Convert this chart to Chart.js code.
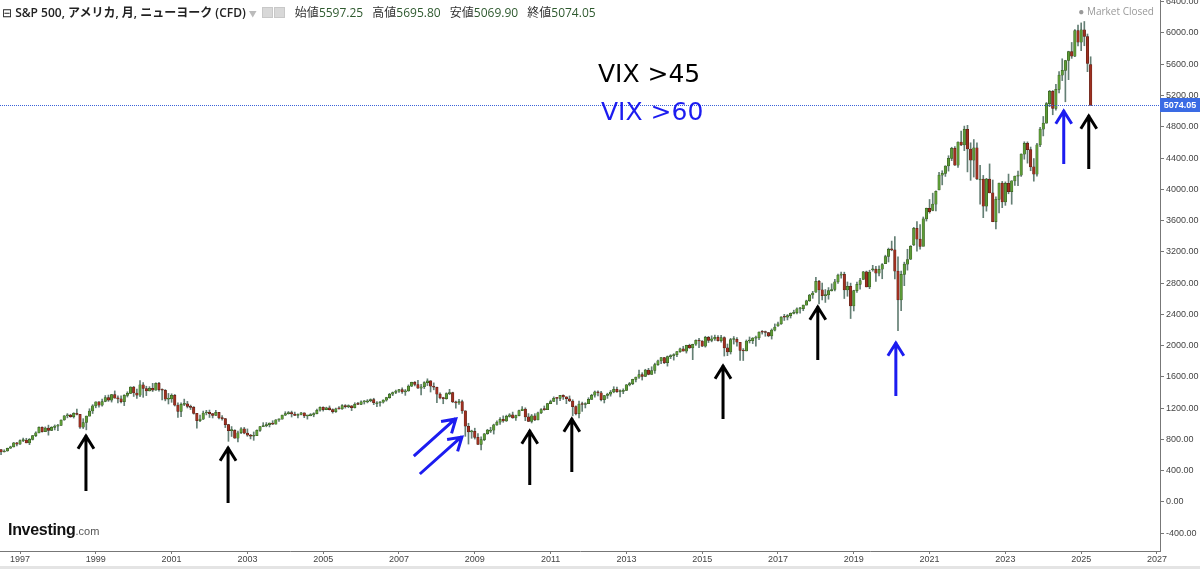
<!DOCTYPE html>
<html>
<head>
<meta charset="utf-8">
<script src="https://cdn.jsdelivr.net/npm/chart.js@4.4.1/dist/chart.umd.min.js"></script>
<style>
    html, body { margin: 0; padding: 0; background: #fff; }
    #wrap { position: relative; width: 1200px; height: 566px; }
    #band { width: 1200px; height: 3px; background: #e4e4e4; }
    #hdr {
        position: absolute; left: 2px; top: 3px; white-space: nowrap;
        font: 12px "Open Sans", "Noto Sans CJK JP", sans-serif; color: #222;
    }
    #hdr .t { font-weight: 600; }
    #hdr .caret { color: #bbb; font-size: 8px; margin: 0 5px 0 3px; }
    #hdr .ic { display: inline-block; width: 9px; height: 9px; background: #d8d8d8; border: 1px solid #c8c8c8; margin-right: 1px; vertical-align: -1px; }
    #hdr .lb { color: #333; margin-left: 6px; }
    #hdr .v { color: #2f5a2f; }
    #mkt {
        position: absolute; right: 46px; top: 4px;
        font: 10px "Open Sans", sans-serif; color: #999;
    }
    #logo { position: absolute; left: 8px; top: 521px; white-space: nowrap; }
    #logo .a { font: bold 16px "Liberation Sans", Arial, sans-serif; color: #111; letter-spacing: -0.3px; }
    #logo .b { font: 11px "Liberation Sans", Arial, sans-serif; color: #555; }
</style>
</head>
<body>
<div id="wrap">
    <canvas id="spxChart" width="1200" height="566"></canvas>
    <div id="hdr">
        <span>⊟</span> <span class="t">S&amp;P 500, アメリカ, 月, ニューヨーク (CFD)</span><span class="caret">▼</span><span class="ic"></span><span class="ic"></span>
        <span class="lb">始値</span><span class="v" id="qOpen"></span>
        <span class="lb">高値</span><span class="v" id="qHigh"></span>
        <span class="lb">安値</span><span class="v" id="qLow"></span>
        <span class="lb">終値</span><span class="v" id="qClose"></span>
    </div>
    <div id="mkt">● Market Closed</div>
    <div id="logo"><span class="a">Investing</span><span class="b">.com</span></div>
</div>
<div id="band"></div>

<script>
// S&P 500 monthly candles, June 1996 .. April 2025
const startYear = 1996;
const startMonth = 6;

const opens = [
    669, 671, 640, 652, 687, 705, 757,
    741, 786, 791, 757, 801, 848, 885, 954, 899, 947, 915, 955,
    970, 980, 1049, 1102, 1112, 1091, 1134, 1121, 957, 1017, 1099, 1164,
    1229, 1280, 1238, 1286, 1335, 1302, 1373, 1329, 1320, 1283, 1363, 1389,
    1469, 1394, 1366, 1499, 1452, 1421, 1455, 1431, 1518, 1437, 1429, 1315,
    1320, 1366, 1240, 1160, 1249, 1256, 1224, 1211, 1134, 1041, 1060, 1139,
    1148, 1130, 1107, 1147, 1077, 1067, 990, 912, 916, 815, 886, 936,
    880, 856, 841, 848, 917, 964, 975, 990, 1008, 996, 1051, 1058,
    1112, 1131, 1145, 1126, 1107, 1121, 1141, 1102, 1104, 1115, 1130, 1174,
    1212, 1181, 1204, 1181, 1157, 1192, 1191, 1234, 1220, 1229, 1207, 1249,
    1248, 1280, 1281, 1295, 1311, 1270, 1270, 1277, 1304, 1336, 1378, 1401,
    1418, 1438, 1407, 1421, 1482, 1531, 1503, 1455, 1474, 1527, 1549, 1481,
    1468, 1379, 1331, 1323, 1386, 1400, 1280, 1267, 1283, 1166, 969, 896,
    903, 826, 735, 798, 873, 919, 919, 987, 1021, 1057, 1036, 1096,
    1115, 1074, 1104, 1169, 1187, 1089, 1031, 1102, 1049, 1141, 1183, 1181,
    1258, 1286, 1327, 1326, 1364, 1345, 1321, 1292, 1219, 1131, 1253, 1247,
    1258, 1312, 1366, 1408, 1398, 1310, 1362, 1379, 1407, 1441, 1412, 1416,
    1426, 1498, 1515, 1569, 1598, 1631, 1606, 1686, 1633, 1682, 1757, 1806,
    1848, 1783, 1859, 1872, 1884, 1924, 1960, 1931, 2003, 1972, 2018, 2068,
    2059, 1995, 2105, 2068, 2086, 2107, 2063, 2104, 1972, 1920, 2079, 2080,
    2044, 1940, 1932, 2060, 2065, 2097, 2099, 2174, 2171, 2168, 2126, 2199,
    2251, 2279, 2364, 2363, 2384, 2412, 2423, 2470, 2472, 2519, 2575, 2648,
    2683, 2824, 2714, 2641, 2648, 2705, 2718, 2816, 2902, 2914, 2712, 2760,
    2507, 2704, 2784, 2848, 2946, 2752, 2971, 2980, 2926, 2977, 3050, 3141,
    3231, 3226, 2954, 2585, 2912, 3044, 3105, 3289, 3500, 3363, 3270, 3622,
    3756, 3731, 3811, 3992, 4181, 4204, 4298, 4395, 4523, 4308, 4605, 4567,
    4766, 4516, 4374, 4530, 4132, 4132, 3785, 4130, 3955, 3586, 3872, 4080,
    3840, 4077, 3970, 4109, 4169, 4180, 4450, 4589, 4508, 4288, 4194, 4568,
    4770, 4846, 5096, 5254, 5036, 5278, 5460, 5522, 5648, 5762, 5705, 6032,
    5882, 6041, 5955, 5597.25
];

const highs = [
    681, 672, 668, 690, 714, 762, 762,
    794, 818, 815, 812, 851, 898, 961, 961, 960, 983, 963, 986,
    992, 1050, 1106, 1131, 1122, 1142, 1190, 1121, 1066, 1100, 1193, 1245,
    1281, 1284, 1317, 1362, 1368, 1376, 1421, 1357, 1359, 1373, 1410, 1474,
    1479, 1445, 1553, 1528, 1481, 1475, 1518, 1525, 1531, 1448, 1438, 1389,
    1384, 1376, 1268, 1269, 1316, 1287, 1240, 1221, 1134, 1111, 1163, 1173,
    1176, 1131, 1173, 1148, 1106, 1068, 994, 965, 925, 907, 951, 954,
    935, 865, 896, 924, 965, 1015, 1016, 1012, 1040, 1054, 1063, 1112,
    1155, 1158, 1163, 1150, 1128, 1146, 1141, 1109, 1131, 1142, 1188, 1218,
    1218, 1213, 1229, 1192, 1200, 1220, 1246, 1246, 1243, 1233, 1270, 1276,
    1295, 1298, 1310, 1319, 1327, 1285, 1283, 1308, 1340, 1390, 1407, 1431,
    1441, 1461, 1439, 1498, 1533, 1541, 1556, 1504, 1539, 1576, 1553, 1524,
    1471, 1396, 1340, 1397, 1441, 1405, 1292, 1314, 1304, 1168, 1007, 919,
    944, 876, 833, 877, 930, 956, 996, 1039, 1081, 1102, 1111, 1130,
    1150, 1113, 1175, 1220, 1205, 1131, 1120, 1130, 1151, 1196, 1228, 1263,
    1303, 1345, 1332, 1366, 1371, 1346, 1357, 1308, 1230, 1292, 1278, 1270,
    1334, 1378, 1420, 1422, 1416, 1364, 1392, 1427, 1475, 1471, 1434, 1448,
    1504, 1530, 1571, 1598, 1687, 1654, 1698, 1710, 1730, 1776, 1814, 1849,
    1851, 1868, 1884, 1897, 1925, 1968, 1992, 2006, 2019, 2019, 2076, 2093,
    2065, 2120, 2118, 2126, 2135, 2130, 2133, 2113, 2021, 2094, 2117, 2104,
    2044, 1963, 2073, 2111, 2103, 2121, 2178, 2194, 2187, 2170, 2214, 2278,
    2301, 2372, 2401, 2398, 2419, 2454, 2484, 2491, 2520, 2582, 2657, 2695,
    2873, 2836, 2801, 2718, 2743, 2791, 2848, 2917, 2941, 2940, 2815, 2800,
    2709, 2813, 2860, 2950, 2954, 2965, 3028, 3014, 3022, 3050, 3157, 3248,
    3338, 3394, 3136, 2954, 3068, 3233, 3280, 3514, 3588, 3550, 3646, 3760,
    3870, 3951, 3982, 4218, 4238, 4302, 4430, 4538, 4546, 4608, 4744, 4809,
    4819, 4595, 4637, 4594, 4307, 4178, 4141, 4325, 4119, 3905, 4080, 4101,
    4095, 4195, 4110, 4170, 4232, 4455, 4608, 4607, 4541, 4394, 4588, 4794,
    4932, 5111, 5265, 5264, 5342, 5506, 5670, 5651, 5767, 5879, 6045, 6100,
    6129, 6147, 5987, 5695.80
];

const lows = [
    658, 605, 639, 649, 684, 703, 716,
    737, 773, 756, 733, 793, 836, 884, 893, 899, 855, 912, 922,
    912, 980, 1045, 1076, 1084, 1074, 1115, 940, 940, 923, 1099, 1132,
    1205, 1212, 1227, 1282, 1287, 1278, 1328, 1268, 1268, 1233, 1343, 1387,
    1350, 1326, 1346, 1339, 1361, 1420, 1413, 1429, 1419, 1305, 1294, 1254,
    1275, 1228, 1081, 1092, 1232, 1203, 1183, 1124, 945, 1026, 1055, 1114,
    1081, 1075, 1107, 1063, 1048, 952, 776, 838, 815, 769, 873, 872,
    840, 807, 789, 847, 902, 963, 962, 960, 990, 996, 1031, 1058,
    1105, 1124, 1087, 1107, 1077, 1114, 1079, 1060, 1102, 1090, 1128, 1163,
    1163, 1180, 1176, 1137, 1146, 1188, 1183, 1201, 1206, 1169, 1202, 1245,
    1245, 1253, 1268, 1282, 1245, 1219, 1225, 1265, 1290, 1327, 1360, 1385,
    1403, 1389, 1364, 1416, 1476, 1485, 1454, 1371, 1451, 1489, 1407, 1435,
    1271, 1317, 1257, 1315, 1374, 1272, 1200, 1248, 1133, 840, 741, 815,
    805, 735, 667, 784, 866, 888, 869, 978, 992, 1020, 1030, 1086,
    1071, 1045, 1102, 1167, 1040, 1029, 1011, 1040, 1049, 1131, 1173, 1181,
    1257, 1286, 1249, 1295, 1312, 1258, 1283, 1102, 1115, 1075, 1159, 1203,
    1258, 1312, 1341, 1357, 1292, 1267, 1325, 1354, 1397, 1403, 1343, 1386,
    1426, 1485, 1501, 1536, 1581, 1560, 1605, 1627, 1633, 1646, 1746, 1768,
    1770, 1738, 1834, 1815, 1859, 1915, 1931, 1905, 1965, 1821, 2002, 1973,
    1988, 1981, 2040, 2049, 2067, 2057, 2044, 1867, 1872, 1893, 2020, 1993,
    1812, 1810, 1932, 2034, 2026, 1992, 2075, 2148, 2120, 2114, 2084, 2188,
    2245, 2271, 2322, 2329, 2353, 2406, 2407, 2417, 2447, 2519, 2566, 2605,
    2682, 2533, 2585, 2553, 2594, 2698, 2699, 2796, 2864, 2603, 2632, 2347,
    2444, 2682, 2722, 2848, 2751, 2729, 2953, 2822, 2892, 2856, 3050, 3070,
    3214, 2855, 2192, 2447, 2767, 2966, 3101, 3280, 3210, 3234, 3279, 3594,
    3695, 3725, 3723, 3992, 4057, 4165, 4233, 4367, 4305, 4279, 4560, 4495,
    4223, 4115, 4157, 4124, 3811, 3637, 3721, 3955, 3585, 3492, 3699, 3765,
    3795, 3943, 3809, 4049, 4048, 4166, 4385, 4335, 4238, 4104, 4168, 4546,
    4683, 4845, 5057, 4954, 5012, 5234, 5391, 5120, 5403, 5675, 5697, 5833,
    5774, 5837, 5505, 5069.90
];

const closes = [
    671, 640, 652, 687, 705, 757, 741,
    786, 791, 757, 801, 848, 885, 954, 899, 947, 915, 955, 970,
    980, 1049, 1102, 1112, 1091, 1134, 1121, 957, 1017, 1099, 1164, 1229,
    1280, 1238, 1286, 1335, 1302, 1373, 1329, 1320, 1283, 1363, 1389, 1469,
    1394, 1366, 1499, 1452, 1421, 1455, 1431, 1518, 1437, 1429, 1315, 1320,
    1366, 1240, 1160, 1249, 1256, 1224, 1211, 1134, 1041, 1060, 1139, 1148,
    1130, 1107, 1147, 1077, 1067, 990, 912, 916, 815, 886, 936, 880,
    856, 841, 848, 917, 964, 975, 990, 1008, 996, 1051, 1058, 1112,
    1131, 1145, 1126, 1107, 1121, 1141, 1102, 1104, 1115, 1130, 1174, 1212,
    1181, 1204, 1181, 1157, 1192, 1191, 1234, 1220, 1229, 1207, 1249, 1248,
    1280, 1281, 1295, 1311, 1270, 1270, 1277, 1304, 1336, 1378, 1401, 1418,
    1438, 1407, 1421, 1482, 1531, 1503, 1455, 1474, 1527, 1549, 1481, 1468,
    1379, 1331, 1323, 1386, 1400, 1280, 1267, 1283, 1166, 969, 896, 903,
    826, 735, 798, 873, 919, 919, 987, 1021, 1057, 1036, 1096, 1115,
    1074, 1104, 1169, 1187, 1089, 1031, 1102, 1049, 1141, 1183, 1181, 1258,
    1286, 1327, 1326, 1364, 1345, 1321, 1292, 1219, 1131, 1253, 1247, 1258,
    1312, 1366, 1408, 1398, 1310, 1362, 1379, 1407, 1441, 1412, 1416, 1426,
    1498, 1515, 1569, 1598, 1631, 1606, 1686, 1633, 1682, 1757, 1806, 1848,
    1783, 1859, 1872, 1884, 1924, 1960, 1931, 2003, 1972, 2018, 2068, 2059,
    1995, 2105, 2068, 2086, 2107, 2063, 2104, 1972, 1920, 2079, 2080, 2044,
    1940, 1932, 2060, 2065, 2097, 2099, 2174, 2171, 2168, 2126, 2199, 2239,
    2279, 2364, 2363, 2384, 2412, 2423, 2470, 2472, 2519, 2575, 2648, 2674,
    2824, 2714, 2641, 2648, 2705, 2718, 2816, 2902, 2914, 2712, 2760, 2507,
    2704, 2784, 2834, 2946, 2752, 2942, 2980, 2926, 2977, 3038, 3141, 3231,
    3226, 2954, 2585, 2912, 3044, 3100, 3271, 3500, 3363, 3270, 3622, 3756,
    3714, 3811, 3973, 4181, 4204, 4298, 4395, 4523, 4308, 4605, 4567, 4766,
    4516, 4374, 4530, 4132, 4132, 3785, 4130, 3955, 3586, 3872, 4080, 3840,
    4077, 3970, 4109, 4169, 4180, 4450, 4589, 4508, 4288, 4194, 4568, 4770,
    4846, 5096, 5254, 5036, 5278, 5460, 5522, 5648, 5762, 5705, 6032, 5882,
    6041, 5955, 5612, 5074.05
];

const xTickYears = [1997, 1999, 2001, 2003, 2005, 2007, 2009, 2011, 2013, 2015, 2017, 2019, 2021, 2023, 2025, 2027];
const yTickValues = [-400, 0, 400, 800, 1200, 1600, 2000, 2400, 2800, 3200, 3600, 4000, 4400, 4800, 5200, 5600, 6000, 6400];

// annotation arrows in chart units: [year, fromValue, toValue]
const blackArrows = [
    [1998.74, 141, 844], [2002.49, -13, 691], [2010.45, 217, 908], [2011.56, 384, 1062],
    [2015.55, 1062, 1740], [2018.05, 1816, 2494], [2025.20, 4260, 4938]
];
const blueArrows = [[2020.11, 1356, 2034], [2024.54, 4324, 5002]];
const blueDiagonals = [[2007.39, 588, 2008.50, 1062], [2007.55, 358, 2008.66, 831]];

const GREEN = '#5c9a36', RED = '#9e3020', WICK = '#647f74', BLUE = '#1c1cf0';

document.addEventListener('DOMContentLoaded', () => {
    const last = closes.length - 1;
    document.getElementById('qOpen').textContent = opens[last].toFixed(2);
    document.getElementById('qHigh').textContent = highs[last].toFixed(2);
    document.getElementById('qLow').textContent = lows[last].toFixed(2);
    document.getElementById('qClose').textContent = closes[last].toFixed(2);

    const monthX = closes.map((c, i) => startYear + (startMonth - 1 + i) / 12);

    const bodies = closes.map((c, i) => ({ x: monthX[i], y: [opens[i], c] }));
    const wicks = closes.map((c, i) => ({ x: monthX[i], y: [lows[i], highs[i]] }));
    const up = closes.map((c, i) => c >= opens[i]);

    function arrow(ctx, x0, y0, x1, y1, color) {
        const a = Math.atan2(y1 - y0, x1 - x0);
        const len = 15, th = 0.56;
        ctx.save();
        ctx.strokeStyle = color;
        ctx.lineWidth = 3;
        ctx.lineJoin = 'miter';
        ctx.beginPath();
        ctx.moveTo(x0, y0);
        ctx.lineTo(x1, y1 + 1 * Math.sin(a));
        ctx.moveTo(x1 - len * Math.cos(a - th), y1 - len * Math.sin(a - th));
        ctx.lineTo(x1, y1);
        ctx.lineTo(x1 - len * Math.cos(a + th), y1 - len * Math.sin(a + th));
        ctx.stroke();
        ctx.restore();
    }

    const overlay = {
        id: 'overlay',
        afterDatasetsDraw(chart) {
            const { ctx, chartArea, scales: { y } } = chart;
            const py = Math.round(y.getPixelForValue(closes[last])) + 0.5;
            ctx.save();
            ctx.strokeStyle = '#3a62d8';
            ctx.lineWidth = 1;
            ctx.setLineDash([1, 1]);
            ctx.beginPath();
            ctx.moveTo(chartArea.left, py);
            ctx.lineTo(chartArea.right, py);
            ctx.stroke();
            ctx.restore();
        },
        afterDraw(chart) {
            const { ctx, chartArea, scales: { x, y } } = chart;
            blackArrows.forEach(([t, v0, v1]) => {
                arrow(ctx, x.getPixelForValue(t), y.getPixelForValue(v0), x.getPixelForValue(t), y.getPixelForValue(v1), '#000');
            });
            blueArrows.forEach(([t, v0, v1]) => {
                arrow(ctx, x.getPixelForValue(t), y.getPixelForValue(v0), x.getPixelForValue(t), y.getPixelForValue(v1), BLUE);
            });
            blueDiagonals.forEach(([t0, v0, t1, v1]) => {
                arrow(ctx, x.getPixelForValue(t0), y.getPixelForValue(v0), x.getPixelForValue(t1), y.getPixelForValue(v1), BLUE);
            });

            ctx.save();
            ctx.font = '25px "DejaVu Sans"';
            ctx.textBaseline = 'middle';
            ctx.textAlign = 'left';
            ctx.fillStyle = '#000';
            ctx.fillText('VIX >45', x.getPixelForValue(2012.25), y.getPixelForValue(5462));
            ctx.fillStyle = BLUE;
            ctx.fillText('VIX >60', x.getPixelForValue(2012.33), y.getPixelForValue(4976));

            // last price tag on the axis
            const py = Math.round(y.getPixelForValue(closes[last]));
            ctx.fillStyle = '#3a6be4';
            ctx.fillRect(chartArea.right, py - 7, 40, 14);
            ctx.fillStyle = '#fff';
            ctx.font = 'bold 9px "Liberation Sans"';
            ctx.textAlign = 'center';
            ctx.fillText(closes[last].toFixed(2), chartArea.right + 20, py + 0.5);
            ctx.restore();
        }
    };

    new Chart(document.getElementById('spxChart'), {
        type: 'bar',
        data: {
            datasets: [
                {
                    label: 'body',
                    data: bodies,
                    grouped: false,
                    barThickness: 2.5,
                    minBarLength: 1,
                    backgroundColor: up.map(u => u ? GREEN : RED),
                    borderColor: up.map(u => u ? '#2e4f1c' : '#4e1810'),
                    borderWidth: 0.5,
                    borderSkipped: false
                },
                {
                    label: 'wick',
                    data: wicks,
                    grouped: false,
                    barThickness: 1,
                    backgroundColor: WICK,
                    borderWidth: 0
                }
            ]
        },
        options: {
            responsive: false,
            animation: false,
            layout: { padding: 0 },
            plugins: { legend: { display: false }, tooltip: { enabled: false } },
            scales: {
                x: {
                    type: 'linear',
                    min: 1996.472,
                    max: 2027.08,
                    offset: false,
                    grid: { drawOnChartArea: false, offset: false, tickLength: 3, color: '#777' },
                    border: { color: '#777' },
                    afterBuildTicks: scale => { scale.ticks = xTickYears.map(v => ({ value: v })); },
                    afterFit: scale => { scale.height = 15; scale.paddingLeft = 0; scale.paddingRight = 0; },
                    ticks: {
                        padding: 0,
                        maxRotation: 0,
                        autoSkip: false,
                        color: '#444',
                        font: { family: 'Liberation Sans', size: 9 },
                        callback: v => String(v)
                    }
                },
                y: {
                    position: 'right',
                    min: -627,
                    max: 6422,
                    grid: { drawOnChartArea: false, tickLength: 4, color: '#777' },
                    border: { color: '#777' },
                    afterBuildTicks: scale => { scale.ticks = yTickValues.map(v => ({ value: v })); },
                    afterFit: scale => { scale.width = 40; scale.paddingTop = 0; scale.paddingBottom = 0; },
                    ticks: {
                        padding: 2,
                        autoSkip: false,
                        color: '#444',
                        font: { family: 'Liberation Sans', size: 9 },
                        callback: v => v.toFixed(2)
                    }
                }
            }
        },
        plugins: [overlay]
    });
});
</script>
</body>
</html>
